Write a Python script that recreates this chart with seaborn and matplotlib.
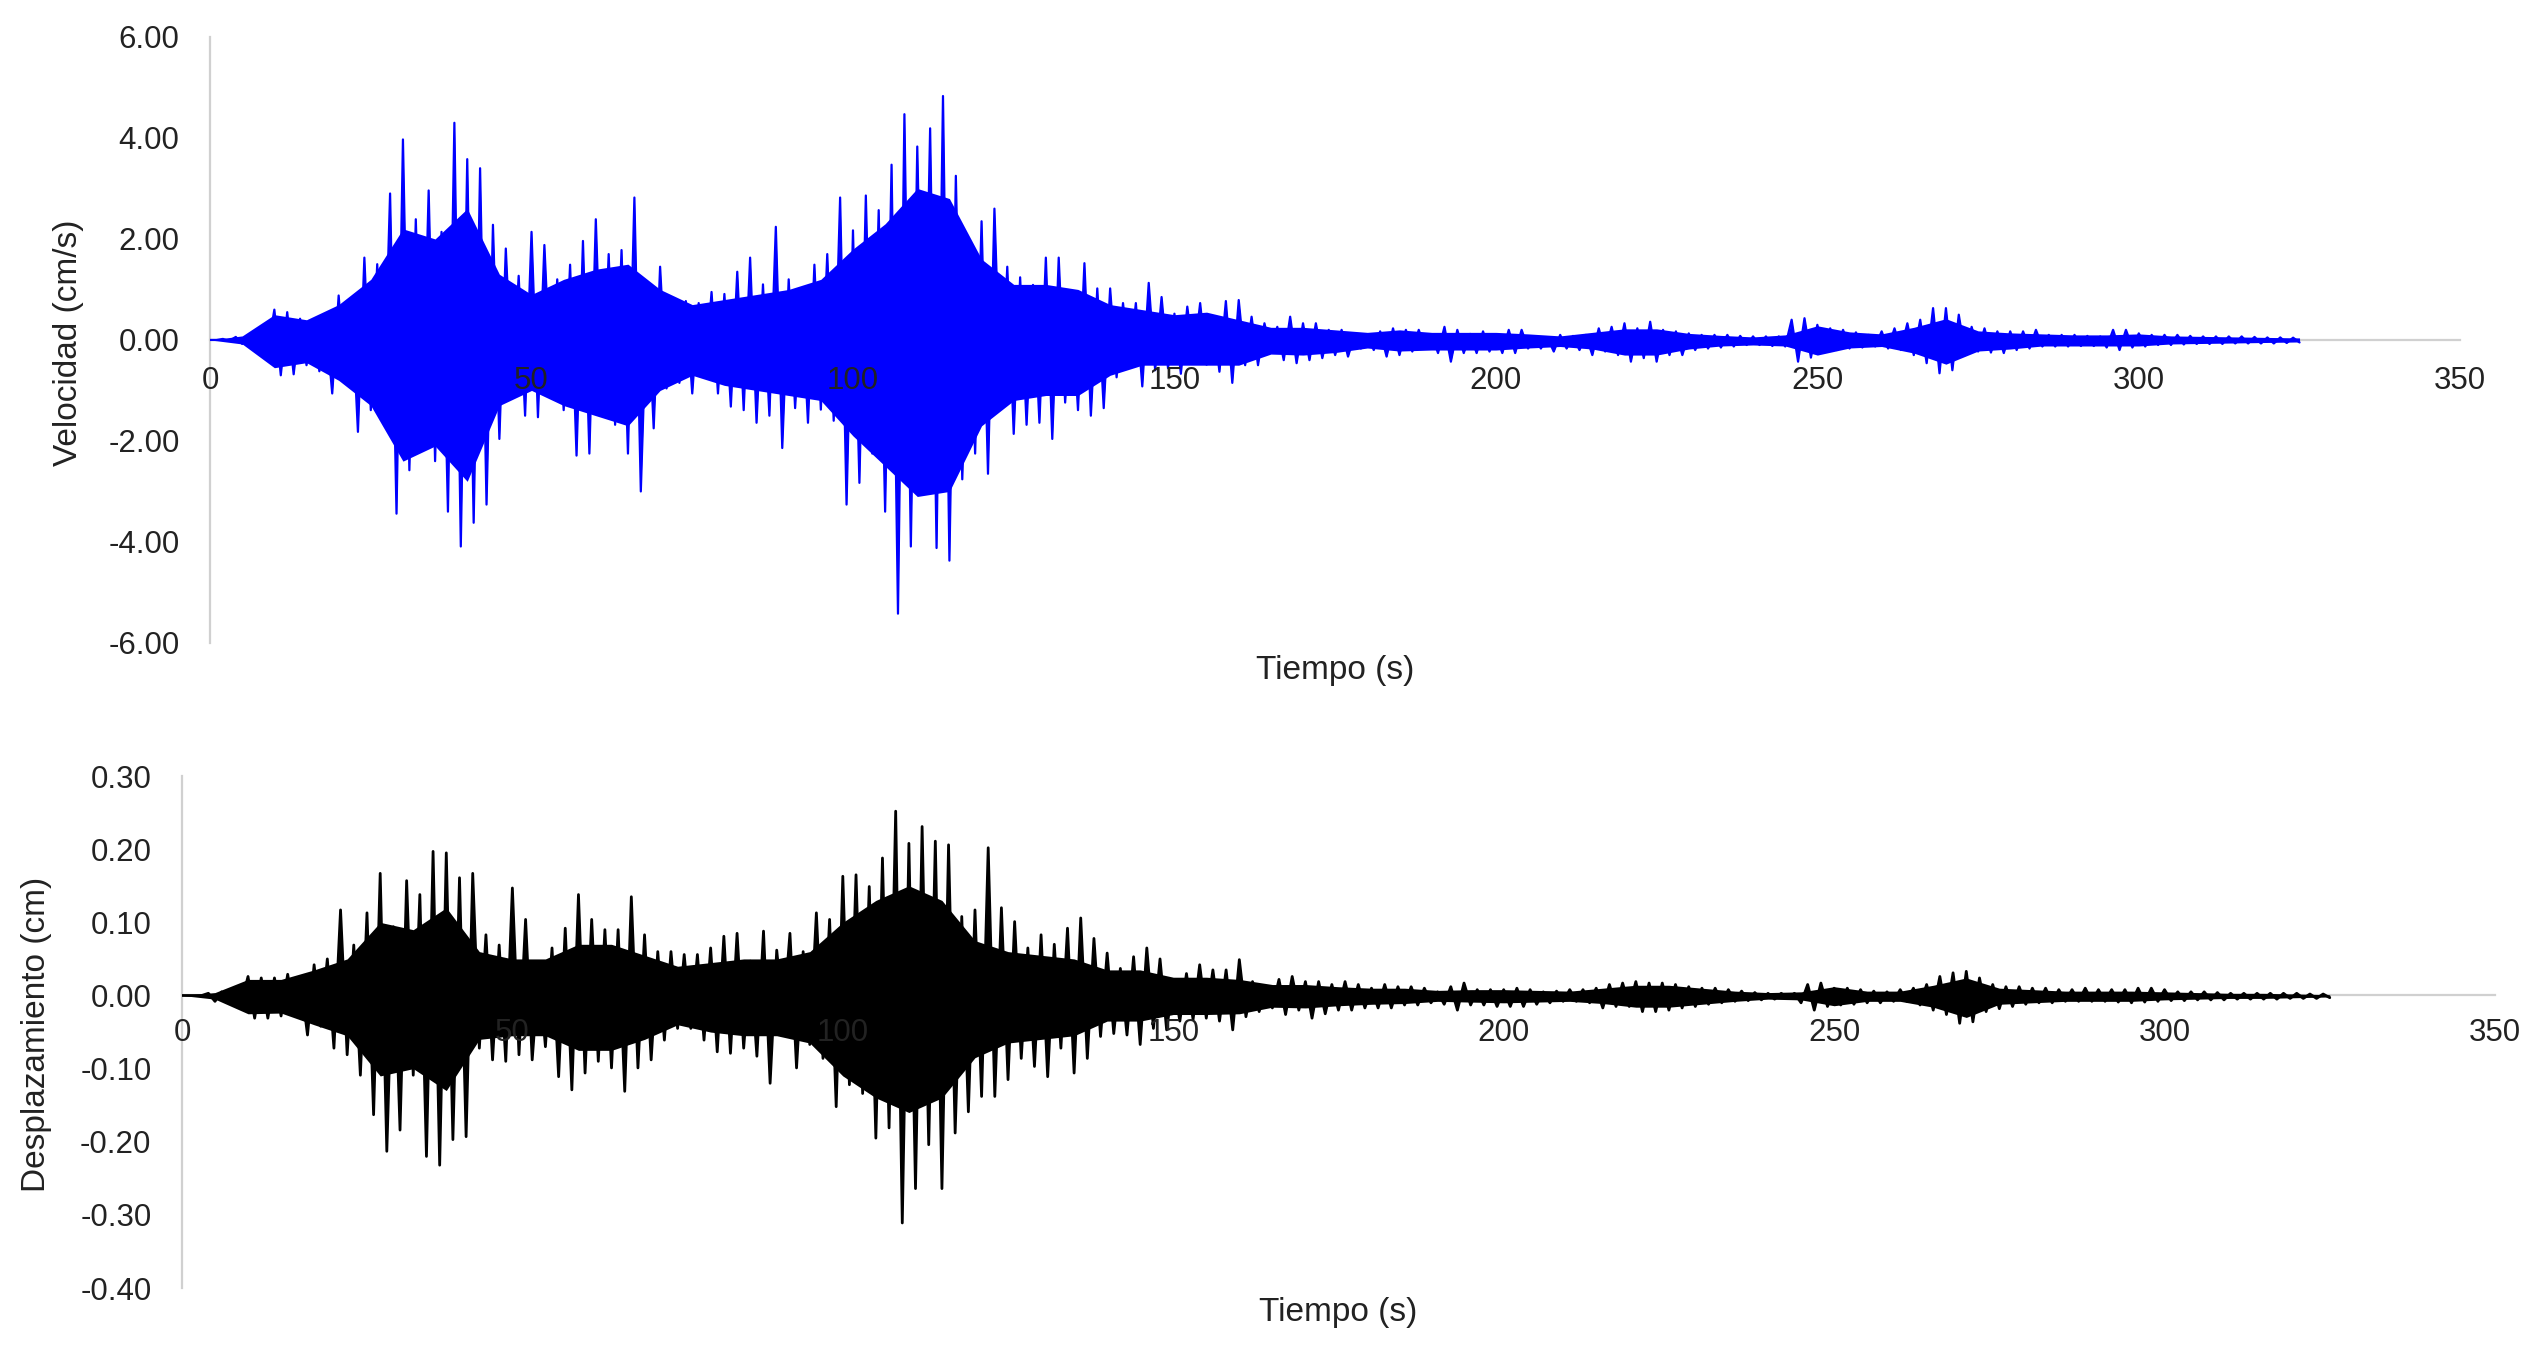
import numpy as np
import pandas as pd
import matplotlib
matplotlib.use("Agg")
import matplotlib.pyplot as plt
import matplotlib.ticker as mticker
import seaborn as sns

# peak values, 1 s apart: even seconds = positive peaks, odd seconds = negative peaks
vel_pos = [0.0, 0.02, 0.06, 0.1, 0.15, 0.6, 0.55, 0.42, 0.4, 0.38,
           0.88, 0.8, 1.63, 1.5, 2.9, 3.97, 2.39, 2.96, 2.14, 4.3,
           3.58, 3.4, 2.28, 1.81, 1.27, 2.14, 1.88, 1.2, 1.49, 1.96,
           2.39, 1.7, 1.78, 2.82, 1.06, 1.45, 0.66, 0.77, 0.73, 0.95,
           0.91, 1.35, 1.63, 1.1, 2.24, 1.2, 0.9, 1.49, 1.7, 2.82,
           2.17, 2.86, 2.57, 3.47, 4.47, 3.83, 4.19, 4.83, 3.25, 1.38,
           2.35, 2.6, 1.45, 1.24, 1.09, 1.63, 1.63, 0.77, 1.52, 1.02,
           1.02, 0.73, 0.73, 1.13, 0.85, 0.52, 0.66, 0.73, 0.45, 0.77,
           0.79, 0.46, 0.33, 0.26, 0.46, 0.33, 0.33, 0.2, 0.2, 0.1,
           0.1, 0.17, 0.23, 0.2, 0.2, 0.1, 0.26, 0.2, 0.12, 0.17,
           0.1, 0.2, 0.2, 0.05, 0.05, 0.1, 0.08, 0.1, 0.23, 0.26,
           0.33, 0.23, 0.36, 0.2, 0.17, 0.13, 0.1, 0.1, 0.1, 0.08,
           0.07, 0.07, 0.07, 0.4, 0.43, 0.3, 0.23, 0.2, 0.15, 0.1,
           0.17, 0.23, 0.33, 0.4, 0.63, 0.63, 0.5, 0.26, 0.23, 0.17,
           0.17, 0.17, 0.2, 0.1, 0.1, 0.1, 0.08, 0.07, 0.2, 0.2,
           0.13, 0.1, 0.1, 0.1, 0.08, 0.07, 0.07, 0.07, 0.07, 0.06,
           0.05, 0.05, 0.045]
vel_neg = [0.0, -0.02, -0.08, -0.12, -0.17, -0.7, -0.68, -0.5, -0.62, -1.06,
           -0.81, -1.82, -1.39, -1.46, -3.44, -2.58, -1.96, -2.4, -3.4, -4.09,
           -3.62, -3.26, -1.96, -1.0, -1.5, -1.53, -0.9, -1.39, -2.29, -2.25,
           -1.5, -1.68, -2.25, -3.0, -1.75, -0.96, -0.85, -1.06, -0.75, -1.06,
           -1.32, -1.39, -1.64, -1.5, -2.14, -1.35, -1.64, -1.38, -1.6, -3.26,
           -2.83, -2.25, -3.4, -5.42, -4.09, -2.29, -4.12, -4.37, -2.76, -2.25,
           -2.65, -1.28, -1.86, -1.68, -1.64, -1.96, -1.24, -1.39, -1.5, -1.35,
           -0.74, -0.45, -0.92, -0.6, -0.56, -0.67, -0.38, -0.49, -0.63, -0.85,
           -0.5, -0.5, -0.23, -0.4, -0.46, -0.4, -0.36, -0.3, -0.33, -0.17,
           -0.2, -0.33, -0.3, -0.23, -0.17, -0.26, -0.43, -0.26, -0.26, -0.23,
           -0.26, -0.26, -0.17, -0.17, -0.23, -0.17, -0.2, -0.3, -0.23, -0.3,
           -0.43, -0.36, -0.43, -0.3, -0.3, -0.2, -0.17, -0.15, -0.13, -0.1,
           -0.1, -0.12, -0.13, -0.43, -0.35, -0.25, -0.2, -0.17, -0.15, -0.13,
           -0.17, -0.2, -0.3, -0.46, -0.66, -0.6, -0.3, -0.23, -0.25, -0.26,
           -0.2, -0.17, -0.13, -0.13, -0.13, -0.12, -0.12, -0.15, -0.2, -0.15,
           -0.13, -0.1, -0.1, -0.09, -0.08, -0.08, -0.08, -0.07, -0.07, -0.07,
           -0.07, -0.06, -0.05]

# solid core of the velocity record (where the trace is too dense to separate), every 5 s
vel_core_up = [0.0, 0.08, 0.5, 0.4, 0.7, 1.2, 2.2, 2.0, 2.6, 1.3,
               0.9, 1.2, 1.4, 1.5, 1.0, 0.7, 0.8, 0.9, 1.0, 1.2,
               1.8, 2.3, 3.0, 2.8, 1.6, 1.1, 1.1, 1.0, 0.7, 0.6,
               0.5, 0.55, 0.4, 0.25, 0.25, 0.2, 0.15, 0.2, 0.15, 0.15,
               0.15, 0.12, 0.08, 0.15, 0.22, 0.22, 0.13, 0.09, 0.06, 0.1,
               0.28, 0.16, 0.12, 0.25, 0.42, 0.18, 0.14, 0.12, 0.1, 0.1,
               0.12, 0.08, 0.07, 0.06, 0.05, 0.04]
vel_core_lo = [0.0, -0.08, -0.55, -0.45, -0.8, -1.3, -2.4, -2.1, -2.8, -1.3,
               -1.0, -1.3, -1.5, -1.7, -1.0, -0.7, -0.9, -1.0, -1.1, -1.2,
               -1.9, -2.5, -3.1, -3.0, -1.7, -1.2, -1.1, -1.1, -0.7, -0.5,
               -0.5, -0.5, -0.5, -0.28, -0.3, -0.25, -0.16, -0.22, -0.2, -0.2,
               -0.2, -0.16, -0.13, -0.18, -0.3, -0.3, -0.18, -0.12, -0.1, -0.12,
               -0.3, -0.16, -0.13, -0.26, -0.48, -0.22, -0.18, -0.12, -0.12, -0.12,
               -0.12, -0.08, -0.07, -0.06, -0.05, -0.04]

disp_pos = [0.0, 0.0, 0.003, 0.005, 0.005, 0.026, 0.024, 0.024, 0.029, 0.019,
            0.042, 0.05, 0.117, 0.069, 0.113, 0.167, 0.094, 0.157, 0.138, 0.197,
            0.195, 0.161, 0.167, 0.083, 0.069, 0.147, 0.104, 0.035, 0.065, 0.092,
            0.138, 0.104, 0.09, 0.09, 0.135, 0.083, 0.06, 0.06, 0.056, 0.056,
            0.065, 0.081, 0.085, 0.047, 0.088, 0.062, 0.085, 0.06, 0.113, 0.104,
            0.163, 0.165, 0.149, 0.188, 0.252, 0.208, 0.231, 0.211, 0.206, 0.108,
            0.117, 0.202, 0.12, 0.101, 0.065, 0.083, 0.07, 0.092, 0.106, 0.078,
            0.058, 0.037, 0.053, 0.065, 0.05, 0.019, 0.03, 0.042, 0.035, 0.035,
            0.049, 0.019, 0.012, 0.022, 0.026, 0.019, 0.019, 0.015, 0.019, 0.015,
            0.01, 0.015, 0.012, 0.012, 0.01, 0.005, 0.012, 0.017, 0.008, 0.008,
            0.008, 0.01, 0.008, 0.005, 0.006, 0.008, 0.008, 0.01, 0.015, 0.017,
            0.019, 0.017, 0.017, 0.015, 0.012, 0.01, 0.01, 0.008, 0.006, 0.004,
            0.003, 0.003, 0.003, 0.015, 0.017, 0.01, 0.01, 0.008, 0.006, 0.005,
            0.008, 0.01, 0.015, 0.026, 0.031, 0.033, 0.024, 0.015, 0.012, 0.012,
            0.01, 0.01, 0.008, 0.008, 0.01, 0.008, 0.008, 0.008, 0.01, 0.01,
            0.008, 0.005, 0.005, 0.005, 0.004, 0.003, 0.003, 0.003, 0.003, 0.003,
            0.003, 0.002, 0.002]
disp_neg = [0.0, 0.0, -0.008, -0.008, -0.01, -0.031, -0.031, -0.028, -0.026, -0.054,
            -0.042, -0.072, -0.081, -0.109, -0.163, -0.213, -0.184, -0.109, -0.22, -0.232,
            -0.197, -0.193, -0.072, -0.088, -0.09, -0.081, -0.088, -0.07, -0.111, -0.129,
            -0.106, -0.09, -0.099, -0.131, -0.099, -0.088, -0.061, -0.045, -0.045, -0.061,
            -0.077, -0.079, -0.072, -0.083, -0.12, -0.031, -0.099, -0.067, -0.086, -0.152,
            -0.122, -0.134, -0.195, -0.181, -0.311, -0.264, -0.204, -0.264, -0.188, -0.159,
            -0.138, -0.138, -0.115, -0.086, -0.097, -0.111, -0.072, -0.106, -0.086, -0.056,
            -0.052, -0.054, -0.067, -0.045, -0.047, -0.035, -0.033, -0.031, -0.035, -0.047,
            -0.029, -0.022, -0.017, -0.026, -0.02, -0.031, -0.025, -0.02, -0.02, -0.017,
            -0.017, -0.017, -0.013, -0.013, -0.01, -0.012, -0.02, -0.013, -0.013, -0.015,
            -0.015, -0.015, -0.012, -0.01, -0.008, -0.008, -0.01, -0.017, -0.015, -0.015,
            -0.022, -0.022, -0.02, -0.017, -0.015, -0.012, -0.01, -0.008, -0.007, -0.006,
            -0.005, -0.004, -0.01, -0.02, -0.015, -0.013, -0.012, -0.01, -0.01, -0.008,
            -0.008, -0.013, -0.02, -0.026, -0.038, -0.036, -0.022, -0.018, -0.015, -0.012,
            -0.01, -0.01, -0.008, -0.008, -0.008, -0.008, -0.009, -0.01, -0.009, -0.008,
            -0.007, -0.007, -0.006, -0.006, -0.006, -0.005, -0.005, -0.005, -0.005, -0.004,
            -0.004, -0.004, -0.003]

# solid core of the displacement record, every 5 s
disp_core_up = [0.0, 0.004, 0.022, 0.022, 0.035, 0.05, 0.1, 0.09, 0.12, 0.06,
                0.05, 0.05, 0.07, 0.07, 0.055, 0.04, 0.045, 0.05, 0.05, 0.06,
                0.1, 0.13, 0.15, 0.13, 0.075, 0.06, 0.055, 0.05, 0.035, 0.035,
                0.025, 0.025, 0.022, 0.015, 0.015, 0.012, 0.01, 0.01, 0.007, 0.008,
                0.008, 0.007, 0.006, 0.01, 0.014, 0.014, 0.01, 0.006, 0.004, 0.005,
                0.012, 0.006, 0.006, 0.014, 0.024, 0.01, 0.008, 0.006, 0.006, 0.006,
                0.005, 0.004, 0.003, 0.003, 0.002, 0.001]
disp_core_lo = [0.0, -0.005, -0.025, -0.024, -0.04, -0.055, -0.11, -0.1, -0.13, -0.06,
                -0.055, -0.055, -0.075, -0.075, -0.06, -0.04, -0.05, -0.055, -0.055, -0.065,
                -0.11, -0.14, -0.16, -0.14, -0.085, -0.065, -0.06, -0.055, -0.035, -0.035,
                -0.026, -0.026, -0.025, -0.016, -0.017, -0.014, -0.012, -0.011, -0.008, -0.009,
                -0.01, -0.009, -0.008, -0.011, -0.016, -0.016, -0.012, -0.008, -0.005, -0.006,
                -0.014, -0.008, -0.008, -0.016, -0.03, -0.012, -0.01, -0.008, -0.008, -0.008,
                -0.006, -0.005, -0.004, -0.004, -0.003, -0.002]

DT = 1.0       # seconds between read-off peaks
DT_CORE = 5.0  # seconds between core readings
vel_ticks = [-6, -4, -2, 0, 2, 4, 6]
disp_ticks = [-0.4, -0.3, -0.2, -0.1, 0.0, 0.1, 0.2, 0.3]
time_ticks = [0, 50, 100, 150, 200, 250, 300, 350]

def trace(pos, neg):
    y = np.empty(len(pos) + len(neg))
    y[0::2] = pos
    y[1::2] = neg
    return pd.DataFrame({"t": np.arange(len(y)) * DT, "v": y})

def core(up, lo):
    return pd.DataFrame({"t": np.arange(len(up)) * DT_CORE, "up": up, "lo": lo})

vel = trace(vel_pos, vel_neg)
disp = trace(disp_pos, disp_neg)
vel_core = core(vel_core_up, vel_core_lo)
disp_core = core(disp_core_up, disp_core_lo)

sns.set_theme(style="white")
plt.rcParams["font.family"] = ["Liberation Sans", "DejaVu Sans"]
plt.rcParams["axes.unicode_minus"] = False

GRAY = "#d0d0d0"
TXT = "#222222"

fig = plt.figure(figsize=(25.34, 13.53), dpi=100)
ax1 = fig.add_axes([0.0829, 0.5248, 0.888, 0.4479])
ax2 = fig.add_axes([0.0718, 0.0480, 0.9128, 0.3784])

def style(ax, ylim, yticks, ylabel, lpad, ypad, lab_y):
    ax.set_xlim(0, 350)
    ax.set_ylim(*ylim)
    ax.set_yticks(yticks)
    ax.set_xticks(time_ticks)
    ax.yaxis.set_major_formatter(mticker.FormatStrFormatter("%.2f"))
    ax.xaxis.set_major_formatter(mticker.FormatStrFormatter("%d"))
    for s in ["top", "right"]:
        ax.spines[s].set_visible(False)
    ax.spines["bottom"].set_position(("data", 0))
    for s in ["left", "bottom"]:
        ax.spines[s].set_color(GRAY)
        ax.spines[s].set_linewidth(1.6)
        ax.spines[s].set_zorder(1)
    ax.tick_params(axis="both", length=0, labelsize=22.5, colors=TXT)
    ax.tick_params(axis="x", pad=lpad)
    ax.tick_params(axis="y", pad=ypad)
    ax.xaxis.set_zorder(3)
    ax.set_xlabel("Tiempo (s)", fontsize=24, color=TXT)
    ax.set_ylabel(ylabel, fontsize=24, color=TXT)
    ax.xaxis.set_label_coords(0.5, lab_y)
    ax.xaxis.label.set_va("center")
    ax.yaxis.set_label_coords(-0.063, 0.495)
    ax.yaxis.label.set_va("center")
    ax.set_facecolor("white")

def record(ax, df, cf, color, lw):
    ax.fill_between(cf["t"], cf["lo"], cf["up"], color=color, linewidth=0, zorder=2)
    sns.lineplot(data=df, x="t", y="v", ax=ax, color=color, linewidth=lw,
                 estimator=None, sort=False, zorder=2)
    ax.fill_between(df["t"], df["v"], 0, color=color, linewidth=0, zorder=2)

record(ax1, vel, vel_core, "#0000FF", 1.6)
style(ax1, (-6, 6), vel_ticks, "Velocidad (cm/s)", 19, 22, -0.046)

record(ax2, disp, disp_core, "black", 2.0)
style(ax2, (-0.4, 0.3), disp_ticks, "Desplazamiento (cm)", 16, 22, -0.047)

fig.savefig("out.png", dpi=100, facecolor="white")
